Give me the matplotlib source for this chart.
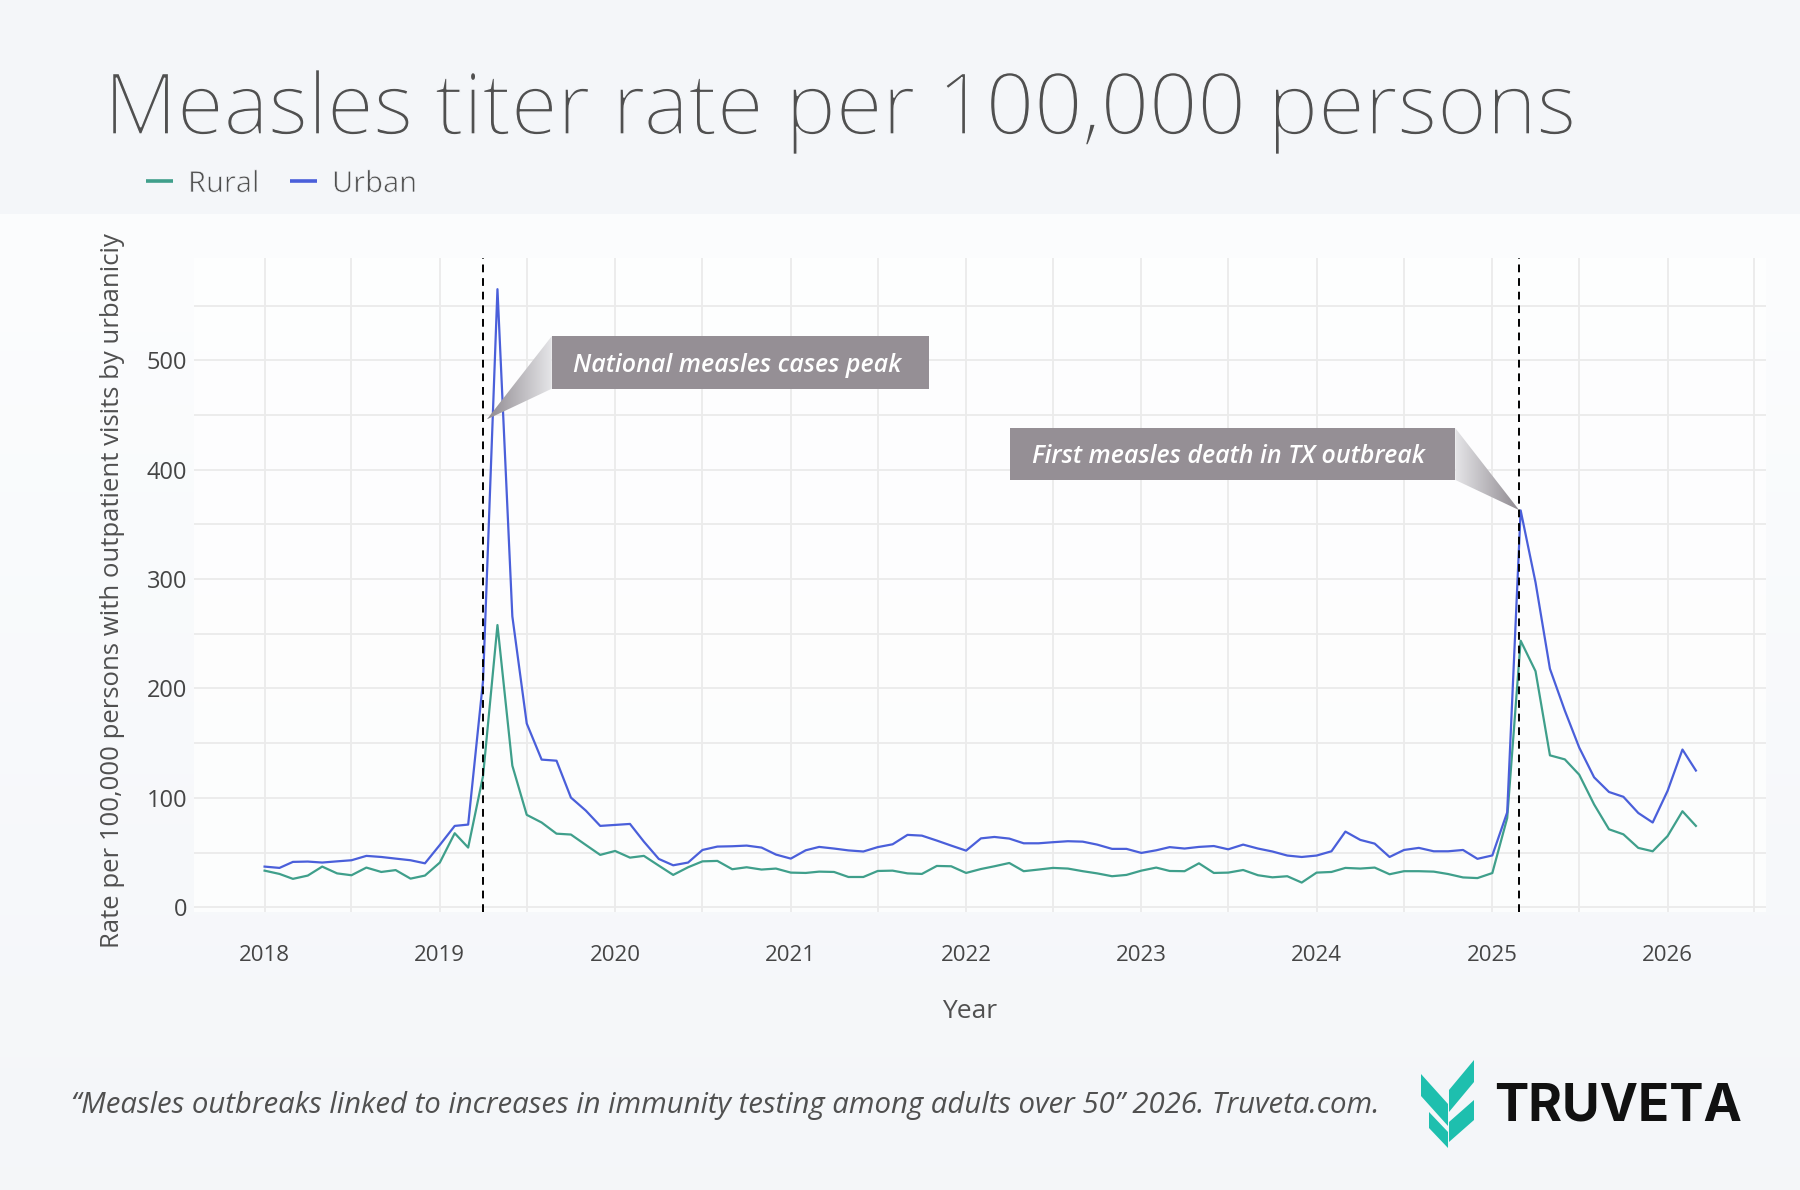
import numpy as np
import pandas as pd
import matplotlib
matplotlib.use("Agg")
import matplotlib.pyplot as plt
import matplotlib.dates as mdates
import matplotlib.patheffects as pe
from matplotlib.patches import Rectangle, Polygon

plt.rcParams['font.family'] = ['Open Sans', 'DejaVu Sans']

# ---------------- data ----------------
months = pd.date_range('2018-01-01', periods=99, freq='MS')

urban = [37.2, 36.0, 41.5, 41.8, 40.9, 42.0, 43.0, 47.0, 46.0, 44.5, 43.0, 40.2,
         57.0, 74.4, 75.6, 207.0, 565.0, 266.0, 168.0, 135.0, 134.0, 100.3, 88.4, 74.4,
         75.3, 76.2, 60.0, 44.2, 38.4, 40.9, 52.4, 55.5, 55.8, 56.4, 54.6, 48.2,
         44.5, 52.1, 55.2, 53.7, 52.0, 51.0, 55.0, 57.6, 66.2, 65.5, 61.0, 56.4,
         51.8, 63.0, 64.3, 62.8, 58.5, 58.5, 59.5, 60.4, 60.0, 57.3, 53.4, 53.4,
         49.7, 52.1, 55.0, 53.7, 55.2, 56.0, 53.0, 57.3, 53.7, 51.0, 47.3, 46.0,
         47.3, 51.2, 69.2, 61.6, 58.2, 46.0, 52.4, 54.3, 51.2, 51.2, 52.4, 44.3,
         47.4, 86.8, 362.8, 297.0, 218.0, 179.8, 146.0, 118.8, 105.4, 101.0, 86.2, 77.5,
         106.4, 144.2, 125.0]

rural = [33.5, 30.5, 26.0, 29.0, 37.2, 31.0, 29.3, 36.3, 32.3, 34.0, 26.2, 29.0,
         40.9, 67.7, 54.6, 120.0, 258.0, 129.5, 84.5, 77.5, 67.3, 66.5, 57.0, 47.9,
         51.5, 45.4, 47.0, 38.1, 29.6, 36.6, 42.0, 42.4, 34.8, 36.6, 34.5, 35.4,
         31.7, 31.4, 32.6, 32.3, 27.7, 27.7, 33.2, 33.5, 31.0, 30.5, 37.8, 37.5,
         31.4, 35.0, 37.5, 40.5, 33.0, 34.5, 36.0, 35.4, 33.0, 31.0, 28.4, 29.6,
         33.5, 36.3, 33.2, 33.0, 40.2, 31.4, 31.7, 34.1, 29.3, 27.4, 28.4, 22.6,
         31.7, 32.3, 36.0, 35.4, 36.3, 30.2, 33.0, 33.0, 32.6, 30.4, 27.3, 26.7,
         31.3, 81.6, 243.7, 215.8, 138.9, 135.2, 121.2, 94.0, 71.3, 66.7, 54.3, 51.2,
         65.1, 87.8, 74.4]

series_names = ['Rural', 'Urban']
event_dates = ['2019-03-31', '2025-02-26']
event_labels = ['National measles cases peak', 'First measles death in TX outbreak']
y_ticks = [0, 100, 200, 300, 400, 500]

RURAL_C = '#3f9f8b'
URBAN_C = '#4a5fda'
TEXT_C = '#505050'
HEAD_BG = '#f4f6f9'

W, H = 1800, 1190
fig = plt.figure(figsize=(W / 100, H / 100), dpi=100)
fig.patch.set_facecolor('#f5f7fa')


def thin(w, col):
    return [pe.Stroke(linewidth=w, foreground=col, joinstyle='round')]


# ---------------- background / decorations layer (pixel coords) ----------------
bg = fig.add_axes([0, 0, 1, 1], zorder=-10)
bg.set_xlim(0, W)
bg.set_ylim(H, 0)
bg.axis('off')

c_top = np.array([0.988, 0.992, 0.996])
c_bot = np.array([0.957, 0.965, 0.976])
t = np.linspace(0, 1, 256)[:, None]
grad = (c_top * (1 - t) + c_bot * t)[:, None, :]
bg.imshow(grad, extent=[0, W, H, 214], aspect='auto', zorder=0)
bg.add_patch(Rectangle((0, 0), W, 214, color=HEAD_BG, zorder=1, lw=0))
bg.set_xlim(0, W)
bg.set_ylim(H, 0)

# title
bg.text(104, 134, 'Measles titer rate per 100,000 persons', fontsize=61,
        fontweight='light', color=TEXT_C, ha='left', va='baseline', zorder=3,
        path_effects=thin(1.0, HEAD_BG))

# legend
bg.plot([146, 173], [181, 181], color=RURAL_C, lw=2.6, solid_capstyle='butt', zorder=3)
bg.text(188, 192, series_names[0], fontsize=21, color=TEXT_C, ha='left', va='baseline', zorder=3,
        path_effects=thin(0.5, HEAD_BG))
bg.plot([290, 317], [181, 181], color=URBAN_C, lw=2.6, solid_capstyle='butt', zorder=3)
bg.text(332, 192, series_names[1], fontsize=21, color=TEXT_C, ha='left', va='baseline', zorder=3,
        path_effects=thin(0.5, HEAD_BG))

# axis titles
bg.text(113, 591, 'Rate per 100,000 persons with outpatient visits by urbaniciy',
        rotation=90, fontsize=18.5, color=TEXT_C, ha='center', va='center', zorder=3)
bg.text(970, 1011, 'Year', fontsize=19, color=TEXT_C, ha='center', va='center', zorder=3)

# footer
bg.text(71, 1106, '\u201cMeasles outbreaks linked to increases in immunity testing among adults over 50\u201d 2026. Truveta.com.',
        fontsize=21.2, style='italic', color=TEXT_C, ha='left', va='center', zorder=3)

# logo
x0, y0 = 1421, 1060
TEAL = '#1ebfae'
pieces = [
    [(28, 30), (53, 0), (53, 22), (28, 52)],
    [(0, 14), (27, 44), (27, 66), (0, 36)],
    [(28, 62), (53, 40), (53, 60), (28, 82)],
    [(8, 52), (27, 72), (27, 88), (8, 68)],
]
for p in pieces:
    bg.add_patch(Polygon([(x0 + a, y0 + b) for a, b in p], closed=True,
                         color=TEAL, lw=0, zorder=3))
bg.text(1494, 1107, 'TRUVETA', fontsize=37, fontweight='bold', family=['Inter', 'DejaVu Sans'],
        color='#111111', ha='left', va='center', zorder=3)

# ---------------- main axes ----------------
ax = fig.add_axes([194 / W, 1 - 912 / H, (1766 - 194) / W, (912 - 258) / H])
ax.set_facecolor((1, 1, 1, 0.75))
for s in ax.spines.values():
    s.set_visible(False)

ax.plot(months, rural, color=RURAL_C, lw=1.6, zorder=3, label=series_names[0])
ax.plot(months, urban, color=URBAN_C, lw=1.6, zorder=3, label=series_names[1])

xlim = (mdates.date2num(pd.Timestamp('2017-08-07')), mdates.date2num(pd.Timestamp('2026-07-25')))
ylim = (-4.3, 593.5)

ax.xaxis.set_major_locator(mdates.YearLocator())
ax.xaxis.set_minor_locator(mdates.MonthLocator(bymonth=7))
ax.xaxis.set_major_formatter(mdates.DateFormatter('%Y'))
ax.set_yticks(y_ticks)
ax.set_yticks(list(range(50, 600, 100)), minor=True)
ax.grid(which='both', color='#ebebeb', lw=1.3, zorder=0)
ax.set_axisbelow(True)
ax.tick_params(which='both', length=0)
ax.tick_params(axis='x', pad=24, labelsize=16, labelcolor='#454545')
ax.tick_params(axis='y', pad=5, labelsize=17, labelcolor='#454545')

# event lines
for d in event_dates:
    ax.axvline(pd.Timestamp(d), color='black', lw=1.4, ls=(0, (4, 3)), zorder=4)


def callout(ax, bx0, bx1, by0, by1, tip, text, text_x):
    bx0n, bx1n = mdates.date2num(pd.Timestamp(bx0)), mdates.date2num(pd.Timestamp(bx1))
    tipx = mdates.date2num(pd.Timestamp(tip[0]))
    tipy = tip[1]
    ax.add_patch(Rectangle((bx0n, by0), bx1n - bx0n, by1 - by0, color='#958f95', lw=0, zorder=6))
    if tipx < bx0n:
        edge = bx0n
        g = np.linspace(0, 1, 256)[None, :]
        ext = [tipx, edge, min(by0, tipy), max(by1, tipy)]
    else:
        edge = bx1n
        g = np.linspace(1, 0, 256)[None, :]
        ext = [edge, tipx, min(by0, tipy), max(by1, tipy)]
    poly = Polygon([(tipx, tipy), (edge, by1), (edge, by0)], closed=True,
                   transform=ax.transData, facecolor='none', edgecolor='none')
    dark = np.array([0.56, 0.54, 0.565])
    light = np.array([0.90, 0.90, 0.91])
    img = dark[None, None, :] * (1 - g[..., None]) + light[None, None, :] * g[..., None]
    ax.add_patch(poly)
    im = ax.imshow(img, extent=ext, aspect='auto', zorder=5, origin='lower')
    im.set_clip_path(poly)
    ax.text(mdates.date2num(pd.Timestamp(text_x)), (by0 + by1) / 2 - 8.5, text, fontsize=18,
            style='italic', fontweight='semibold', color='white', ha='left', va='baseline', zorder=7)


callout(ax, '2019-08-22', '2021-10-16', 474, 522, ('2019-04-09', 446), event_labels[0], '2019-10-06')
callout(ax, '2022-04-02', '2024-10-16', 390.6, 438, ('2025-02-26', 363), event_labels[1], '2022-05-18')

ax.set_xlim(*xlim)
ax.set_ylim(*ylim)

fig.savefig('out.png', dpi=100, facecolor=fig.get_facecolor())
